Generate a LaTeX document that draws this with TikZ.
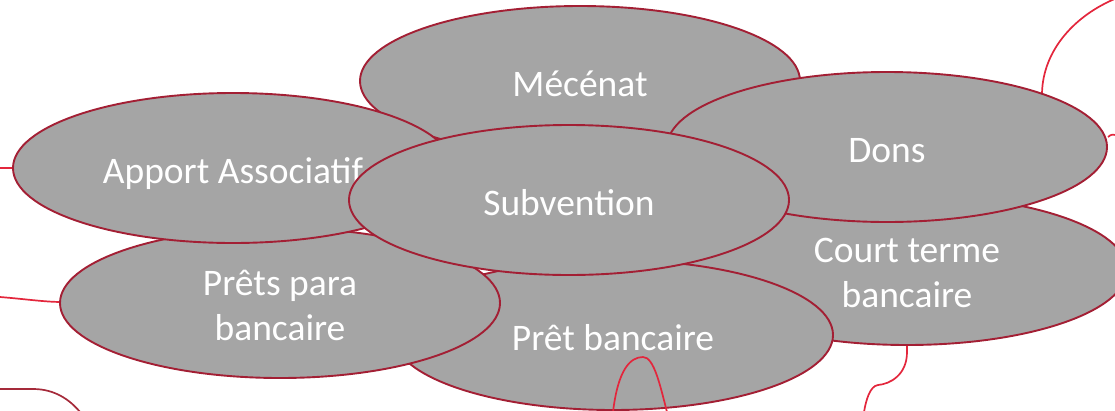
\documentclass[tikz,border=0pt]{standalone}
\usepackage{fontspec}
\setmainfont{Carlito}
\usetikzlibrary{shapes.geometric}
\definecolor{lred}{HTML}{E3263C}
\definecolor{dred}{HTML}{A52A3A}
\definecolor{bord}{HTML}{A31F34}
\definecolor{gfill}{HTML}{A5A5A5}
\newcommand{\lowtext}[1]{\raisebox{-6pt}[\height][\depth]{\begin{tabular}{@{}c@{}}#1\end{tabular}}}
\tikzset{
  blob/.style={ellipse, draw=bord, line width=1.9pt, fill=gfill, minimum width=440pt, minimum height=150pt,
    inner sep=0pt, outer sep=0pt, text=white, font=\fontsize{37.5}{45}\selectfont},
  wire/.style={draw=lred, line width=1.7pt},
}
\begin{document}
\begin{tikzpicture}[x=1pt,y=-1pt]
\useasboundingbox (0,0) rectangle (1115,410);
\clip (0,0) rectangle (1115,410);
% free ends of background curves
\coordinate (l1) at (0,168);
\coordinate (l2) at (0,297);
\coordinate (l3a) at (0,389);
\coordinate (l3b) at (33,389);
\coordinate (l3c) at (80,412);
\coordinate (r1) at (1042,93);
\coordinate (r1b) at (1117,-2);
\coordinate (r2a) at (1108,137);
\coordinate (r2b) at (1117,136);
\coordinate (b1) at (907,345);
\coordinate (b2) at (907,352);
\coordinate (b3) at (878,385);
\coordinate (b4) at (864,412);
\coordinate (u1) at (613,412);
\coordinate (u2) at (643,357);
\coordinate (u3) at (667,412);
% background curves
\draw[wire] (l1) -- (13,168);
\draw[wire] (l2) .. controls (25,299) and (45,302) .. (62,302);
\draw[draw=dred, line width=1.7pt] (l3a) -- (l3b) .. controls (55,389) and (70,400) .. (l3c);
\draw[wire] (r1) .. controls (1043,50) and (1075,15) .. (r1b);
\draw[wire] (r2a) .. controls (1111,134) and (1114,134) .. (r2b);
\draw[wire] (b1) -- (b2) .. controls (907,375) and (890,384) .. (b3) .. controls (870,386) and (866,400) .. (b4);
% ellipses, back to front
\node[blob] (cterm) at (907,270) {\lowtext{Court terme\\bancaire}};
\node[blob] (pbanc) at (613,335) {\lowtext{Prêt bancaire}};
\draw[wire] (u1) .. controls (618,370) and (630,357) .. (u2) .. controls (654,357) and (660,385) .. (u3);
\node[blob] (ppara) at (280,303) {\lowtext{Prêts para\\bancaire}};
\node[blob] (mec) at (580,81) {\lowtext{Mécénat}};
\node[blob] (apport) at (233,168) {\lowtext{Apport Associatif}};
\node[blob] (dons) at (887,147) {\lowtext{Dons}};
\node[blob] (subv) at (569,200) {\lowtext{Subvention}};
\end{tikzpicture}
\end{document}
